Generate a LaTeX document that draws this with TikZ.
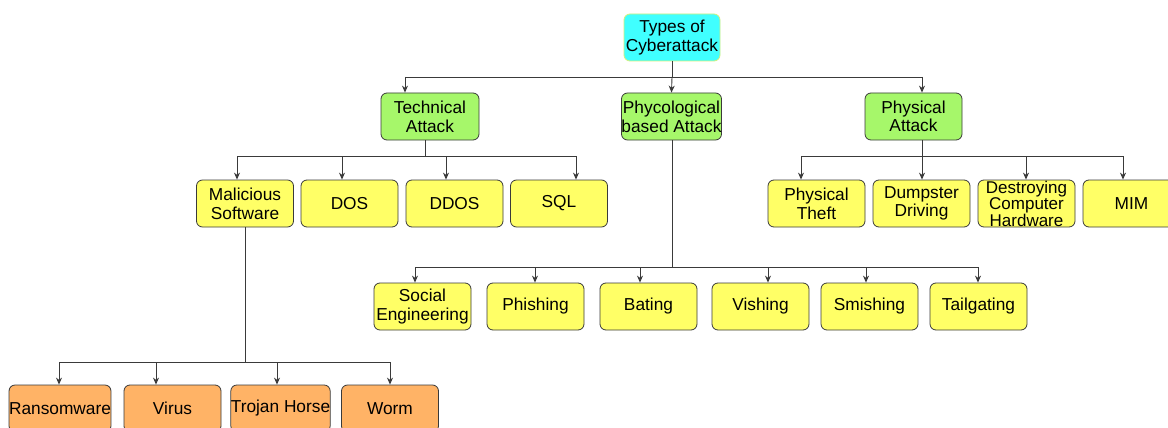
\documentclass[tikz,border=0pt]{standalone}
\usepackage{fontspec}
\setmainfont{Liberation Sans}
\usetikzlibrary{arrows.meta}
\definecolor{cyanbox}{HTML}{40FFFF}
\definecolor{greenbox}{HTML}{A6F76A}
\definecolor{yellowbox}{HTML}{FFFF66}
\definecolor{orangebox}{HTML}{FFB366}
\definecolor{edge}{HTML}{3A3A3A}
\definecolor{rootedge}{HTML}{D4F07A}
\tikzset{
  box/.style={draw=edge, line width=0.8pt, rounded corners=6pt, minimum width=97pt, minimum height=47pt,
    inner sep=0pt, align=center, font=\fontsize{17.3}{19}\selectfont},
  rootbox/.style={box, fill=cyanbox, draw=rootedge},
  greenb/.style={box, fill=greenbox},
  yellowb/.style={box, fill=yellowbox},
  orangeb/.style={box, fill=orangebox},
  link/.style={draw=edge, line width=0.9pt},
  arr/.style={link, -{Stealth[length=7pt,width=6pt]}}
}
\begin{document}
\begin{tikzpicture}[x=1pt,y=-1pt]
\useasboundingbox (0,0) rectangle (1168,428);
\clip (0,0) rectangle (1168,428);
\fill[white] (0,0) rectangle (1168,428);

% nodes
\node[rootbox, minimum width=96pt] (root) at (672,37.5) {Types of\\Cyberattack};
\node[greenb, minimum width=98pt] (tech) at (430,116.5) {Technical\\Attack};
\node[greenb] (phyc) at (671.5,116.5) {Phycological\\based Attack};
\node[greenb] (phys) at (913.5,116.5) {Physical\\[-1pt]Attack};

\node[yellowb] (mal) at (245,203.5) {Malicious\\Software};
\node[yellowb] (dos) at (349.5,203.5) {DOS};
\node[yellowb] (ddos) at (454.5,203.5) {DDOS};
\node[yellowb] (sql) at (559,203.5) {SQL};

\node[yellowb] (theft) at (816.5,203.5) {Physical\\Theft};
\node[yellowb] (dump) at (921.5,203.5) {\raisebox{3pt}{\shortstack{Dumpster\\[-1pt]Driving}}};
\node[yellowb, font=\fontsize{17}{16.5}\selectfont] (destr) at (1026.5,203.5) {Destroying\\Computer\\Hardware};
\node[yellowb] (mim) at (1131.5,203.5) {MIM};

\node[yellowb] (social) at (422.5,306.5) {Social\\Engineering};
\node[yellowb] (phish) at (535.5,306.5) {\raisebox{-5pt}{Phishing}};
\node[yellowb] (bating) at (648.5,306.5) {\raisebox{-5pt}{Bating}};
\node[yellowb] (vish) at (760.5,306.5) {\raisebox{1pt}{Vishing}};
\node[yellowb] (smish) at (869.5,306.5) {\raisebox{-2pt}{Smishing}};
\node[yellowb] (tail) at (978.5,306.5) {\raisebox{-5pt}{Tailgating}};

\node[orangeb] (ransom) at (60,408.5) {Ransomware};
\node[orangeb] (virus) at (172.5,408.5) {Virus};
\node[orangeb] (trojan) at (280.5,408.5) {Trojan Horse};
\node[orangeb] (worm) at (390,408.5) {Worm};

% top bus
\coordinate (t0) at (672,77);
\coordinate (t1) at (405,77);
\coordinate (t2) at (922,77);
\draw[link] (root.south) -- (t0);
\draw[link] (t1) -- (t2);
\draw[arr] (t1) -- (t1 |- tech.north);
\draw[arr] (t0) -- (phyc.north);
\draw[arr] (t2) -- (t2 |- phys.north);

% technical bus
\coordinate (a0) at (425,156);
\coordinate (a1) at (237,156);
\coordinate (a2) at (342,156);
\coordinate (a3) at (446,156);
\coordinate (a4) at (576,156);
\draw[link] (a0 |- tech.south) -- (a0);
\draw[link] (a1) -- (a4);
\draw[arr] (a1) -- (a1 |- mal.north);
\draw[arr] (a2) -- (a2 |- dos.north);
\draw[arr] (a3) -- (a3 |- ddos.north);
\draw[arr] (a4) -- (a4 |- sql.north);

% physical bus
\coordinate (p0) at (922,156);
\coordinate (p1) at (801,156);
\coordinate (p3) at (1026,156);
\coordinate (p4) at (1123,156);
\draw[link] (p0 |- phys.south) -- (p0);
\draw[link] (p1) -- (p4);
\draw[arr] (p1) -- (p1 |- theft.north);
\draw[arr] (p0) -- (p0 |- dump.north);
\draw[arr] (p3) -- (p3 |- destr.north);
\draw[arr] (p4) -- (p4 |- mim.north);

% psychological bus
\coordinate (q0) at (672,267);
\coordinate (q1) at (415,267);
\coordinate (q2) at (535,267);
\coordinate (q3) at (640,267);
\coordinate (q4) at (768,267);
\coordinate (q5) at (866,267);
\coordinate (q6) at (978,267);
\draw[link] (q0 |- phyc.south) -- (q0);
\draw[link] (q1) -- (q6);
\draw[arr] (q1) -- (q1 |- social.north);
\draw[arr] (q2) -- (q2 |- phish.north);
\draw[arr] (q3) -- (q3 |- bating.north);
\draw[arr] (q4) -- (q4 |- vish.north);
\draw[arr] (q5) -- (q5 |- smish.north);
\draw[arr] (q6) -- (q6 |- tail.north);

% malware bus
\coordinate (m0) at (245,362);
\coordinate (m1) at (59,362);
\coordinate (m2) at (156,362);
\coordinate (m3) at (277,362);
\coordinate (m4) at (390,362);
\draw[link] (mal.south) -- (m0);
\draw[link] (m1) -- (m4);
\draw[arr] (m1) -- (m1 |- ransom.north);
\draw[arr] (m2) -- (m2 |- virus.north);
\draw[arr] (m3) -- (m3 |- trojan.north);
\draw[arr] (m4) -- (m4 |- worm.north);
\end{tikzpicture}
\end{document}
